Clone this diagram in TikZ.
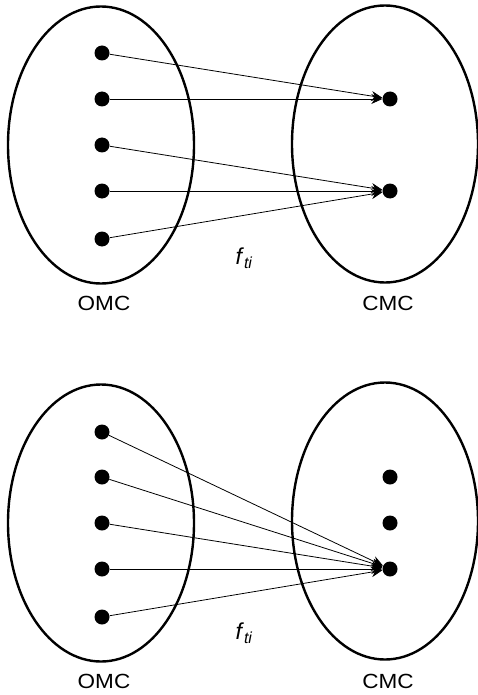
\documentclass[tikz,border=0pt]{standalone}
\usepackage{fontspec}
\setmainfont{Liberation Sans}
\usetikzlibrary{shapes.geometric,arrows.meta}
\newcommand{\fti}{\fontsize{23}{26}\selectfont\textit{f}\raisebox{-4pt}{\fontsize{16}{18}\selectfont\textit{ti}}}
\begin{document}
\begin{tikzpicture}[x=1pt,y=-1pt,
  setshape/.style={draw,ellipse,line width=2.4pt,minimum width=186pt,minimum height=277pt,inner sep=0pt},
  pt/.style={circle,fill=black,inner sep=0pt,minimum size=15pt},
  lbl/.style={font=\fontsize{20.5}{24}\selectfont,inner sep=0pt,xscale=1.1},
  flbl/.style={inner sep=0pt},
  arr/.style={line width=0.8pt,-{Stealth[length=11pt,width=10pt]}}]
\useasboundingbox (0,0) rectangle (478,695);
% top panel
\node[setshape] (tL) at (101,145) {};
\node[setshape] (tR) at (385,144) {};
\node[pt] (ta1) at (102,53) {};
\node[pt] (ta2) at (102,99) {};
\node[pt] (ta3) at (102,145) {};
\node[pt] (ta4) at (102,191) {};
\node[pt] (ta5) at (102,239) {};
\node[pt] (tb1) at (390,99) {};
\node[pt] (tb2) at (390,191) {};
\draw[arr] (ta1) -- (tb1);
\draw[arr] (ta2) -- (tb1);
\draw[arr] (ta3) -- (tb2);
\draw[arr] (ta4) -- (tb2);
\draw[arr] (ta5) -- (tb2);
\node[lbl] (tomc) at (104,303) {OMC};
\node[lbl] (tcmc) at (388,303) {CMC};
\node[flbl] (tf) at (244,258) {\fti};
% bottom panel
\node[setshape] (bL) at (101,523) {};
\node[setshape] (bR) at (385,521) {};
\node[pt] (ba1) at (102,432) {};
\node[pt] (ba2) at (102,477) {};
\node[pt] (ba3) at (102,523) {};
\node[pt] (ba4) at (102,569) {};
\node[pt] (ba5) at (102,617) {};
\node[pt] (bb1) at (390,477) {};
\node[pt] (bb2) at (390,523) {};
\node[pt] (bb3) at (390,569) {};
\draw[arr] (ba1) -- (bb3);
\draw[arr] (ba2) -- (bb3);
\draw[arr] (ba3) -- (bb3);
\draw[arr] (ba4) -- (bb3);
\draw[arr] (ba5) -- (bb3);
\node[lbl] (bomc) at (104,681) {OMC};
\node[lbl] (bcmc) at (388,681) {CMC};
\node[flbl] (bf) at (244,633) {\fti};
\end{tikzpicture}
\end{document}
